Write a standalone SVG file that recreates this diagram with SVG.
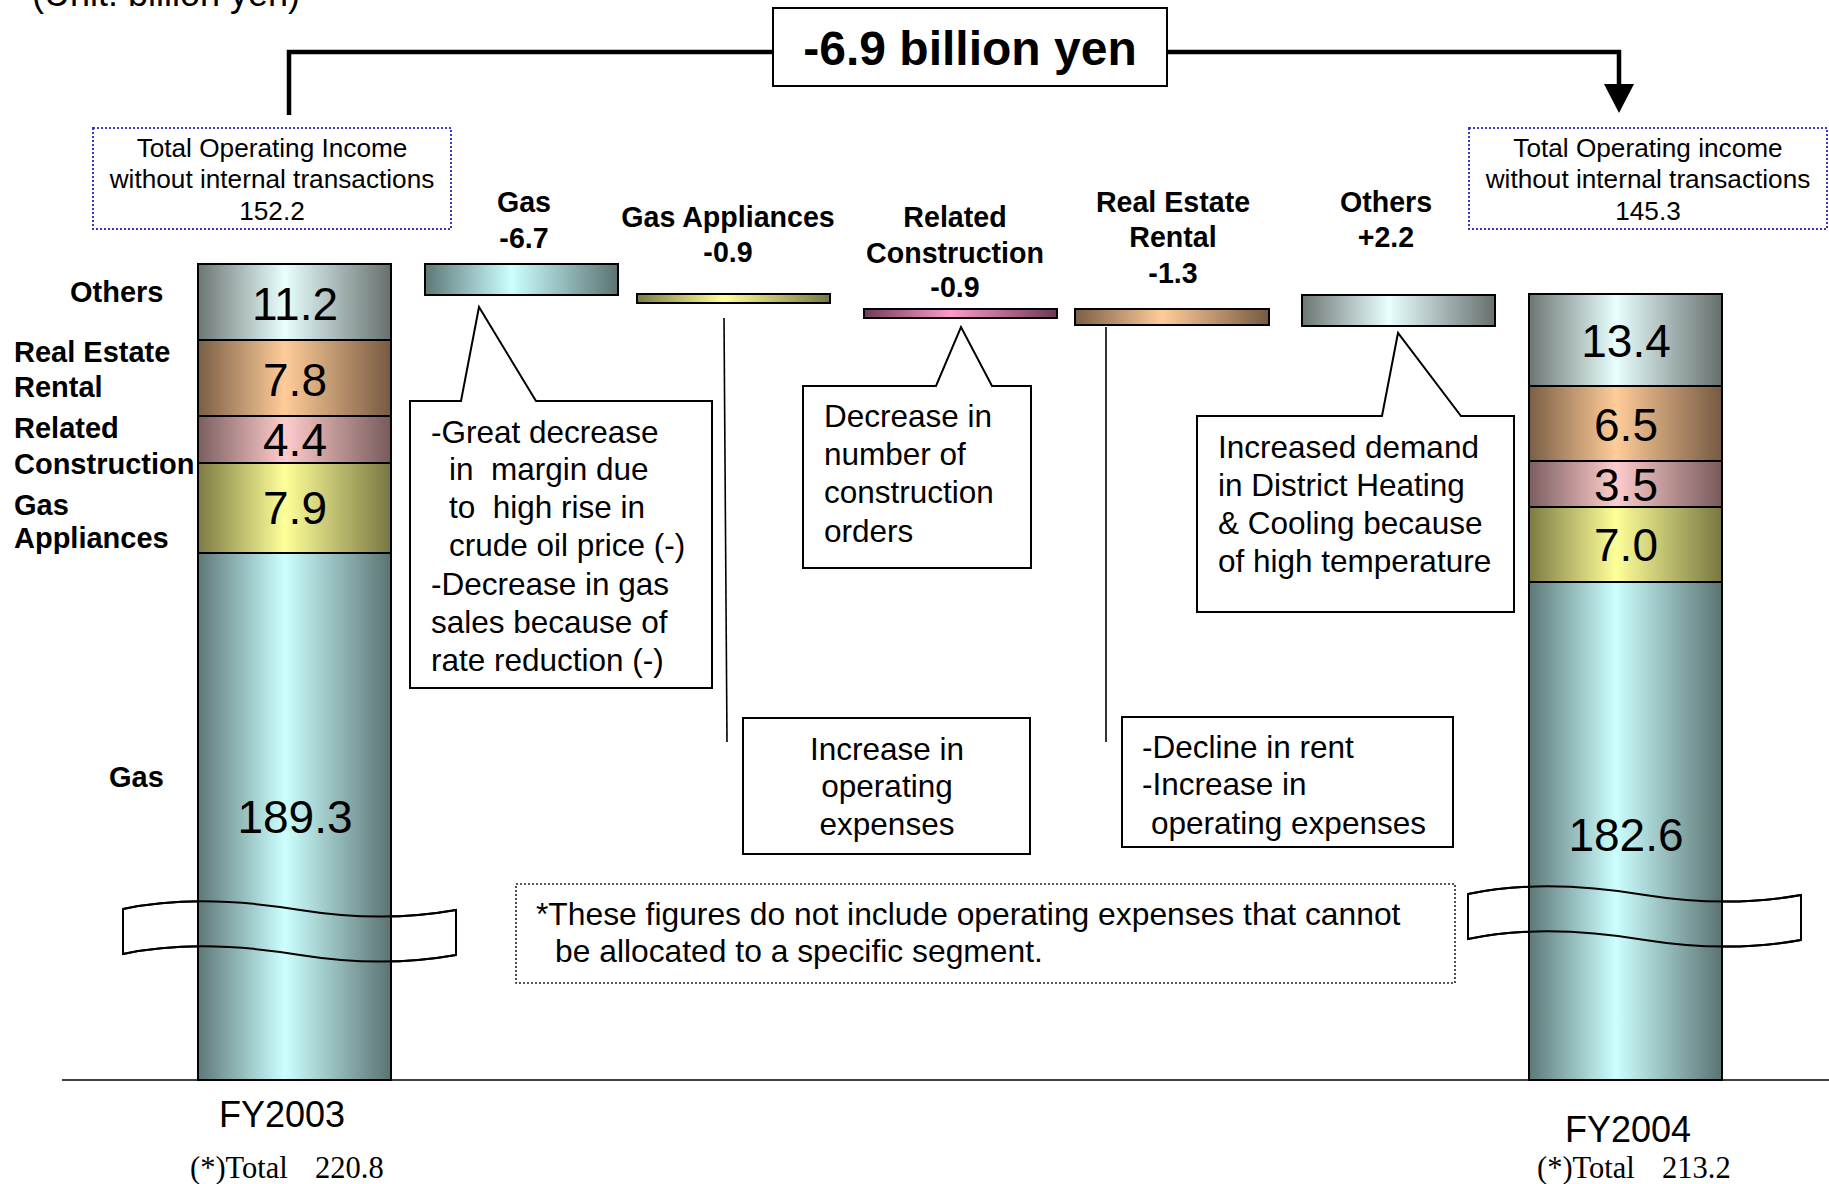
<svg xmlns="http://www.w3.org/2000/svg" width="1829" height="1184" viewBox="0 0 1829 1184">
  <style>
    .sans { font-family: "Liberation Sans", Arial, sans-serif; fill: #000; }
    .serif { font-family: "Liberation Serif", "Times New Roman", serif; fill: #000; }
    .bold { font-weight: bold; }
    .num { font-family: "Liberation Sans", Arial, sans-serif; font-size: 46px; text-anchor: middle; }
    .seglabel { font-family: "Liberation Sans", Arial, sans-serif; font-size: 29px; font-weight: bold; }
    .chglabel { font-family: "Liberation Sans", Arial, sans-serif; font-size: 28.6px; font-weight: bold; text-anchor: middle; }
    .note { font-family: "Liberation Sans", Arial, sans-serif; font-size: 31.5px; }
    .foot { font-family: "Liberation Sans", Arial, sans-serif; font-size: 31.8px; }
    .total { font-family: "Liberation Sans", Arial, sans-serif; font-size: 26.2px; text-anchor: middle; }
    .seg { stroke: #000; stroke-width: 2; }
    .box { fill: #fff; stroke: #000; stroke-width: 2; }
    .dotblue { fill: #fff; stroke: #3a3ab8; stroke-width: 2; stroke-dasharray: 2 2; }
    .dotblack { fill: #fff; stroke: #222; stroke-width: 1.6; stroke-dasharray: 2 2; }
    .lead { fill: none; stroke: #000; stroke-width: 1.6; }
    .bracket { fill: none; stroke: #000; stroke-width: 4.5; }
    .wave { fill: none; stroke: #000; stroke-width: 2; }
  </style>
  <defs>
    <linearGradient id="gGas" x1="0" y1="0" x2="1" y2="0">
      <stop offset="0" stop-color="#5d7877"/>
      <stop offset="0.45" stop-color="#ccffff"/>
      <stop offset="1" stop-color="#5a7372"/>
    </linearGradient>
    <linearGradient id="gOthers" x1="0" y1="0" x2="1" y2="0">
      <stop offset="0" stop-color="#6c7674"/>
      <stop offset="0.45" stop-color="#e8fffd"/>
      <stop offset="1" stop-color="#666f6e"/>
    </linearGradient>
    <linearGradient id="gRent" x1="0" y1="0" x2="1" y2="0">
      <stop offset="0" stop-color="#7a5e45"/>
      <stop offset="0.45" stop-color="#ffcc99"/>
      <stop offset="1" stop-color="#765a42"/>
    </linearGradient>
    <linearGradient id="gCons" x1="0" y1="0" x2="1" y2="0">
      <stop offset="0" stop-color="#7b5e5f"/>
      <stop offset="0.45" stop-color="#ffcccc"/>
      <stop offset="1" stop-color="#775a5b"/>
    </linearGradient>
    <linearGradient id="gConsChg" x1="0" y1="0" x2="1" y2="0">
      <stop offset="0" stop-color="#6e3c57"/>
      <stop offset="0.45" stop-color="#ff99cc"/>
      <stop offset="1" stop-color="#6a3a54"/>
    </linearGradient>
    <linearGradient id="gApp" x1="0" y1="0" x2="1" y2="0">
      <stop offset="0" stop-color="#7b7b44"/>
      <stop offset="0.45" stop-color="#ffff99"/>
      <stop offset="1" stop-color="#777742"/>
    </linearGradient>
    <!-- axis-break band and its two wavy edges -->
    <path id="breakBand" d="M123,909 C180,897 240,900 300,910 C350,918 400,920 456,910 L456,955 C400,965 350,963 300,955 C240,945 180,942 123,954 Z"/>
    <path id="breakEdges" d="M123,909 C180,897 240,900 300,910 C350,918 400,920 456,910 M123,954 C180,942 240,945 300,955 C350,963 400,965 456,955"/>
  </defs>

  <rect width="1829" height="1184" fill="#fff"/>

  <!-- unit caption, running off the top edge -->
  <text class="sans" x="32" y="6" font-size="36">(Unit: billion yen)</text>

  <!-- baseline of the chart -->
  <line x1="62" y1="1080" x2="1829" y2="1080" stroke="#000" stroke-width="1.6"/>

  <!-- break band behind the bars -->
  <use href="#breakBand" fill="#fff" stroke="#000" stroke-width="2"/>
  <use href="#breakBand" fill="#fff" stroke="#000" stroke-width="2" transform="translate(1345,-15)"/>

  <!-- FY2003 stacked bar -->
  <g id="bar-fy2003">
    <rect class="seg" x="198" y="264" width="193" height="76" fill="url(#gOthers)"/>
    <rect class="seg" x="198" y="340" width="193" height="76" fill="url(#gRent)"/>
    <rect class="seg" x="198" y="416" width="193" height="47" fill="url(#gCons)"/>
    <rect class="seg" x="198" y="463" width="193" height="90" fill="url(#gApp)"/>
    <rect class="seg" x="198" y="553" width="193" height="527" fill="url(#gGas)"/>
    <text class="num" x="295" y="320">11.2</text>
    <text class="num" x="295" y="396">7.8</text>
    <text class="num" x="295" y="456">4.4</text>
    <text class="num" x="295" y="524">7.9</text>
    <text class="num" x="295" y="833">189.3</text>
  </g>

  <!-- FY2004 stacked bar -->
  <g id="bar-fy2004">
    <rect class="seg" x="1529" y="294" width="193" height="92" fill="url(#gOthers)"/>
    <rect class="seg" x="1529" y="386" width="193" height="75" fill="url(#gRent)"/>
    <rect class="seg" x="1529" y="461" width="193" height="46" fill="url(#gCons)"/>
    <rect class="seg" x="1529" y="507" width="193" height="75" fill="url(#gApp)"/>
    <rect class="seg" x="1529" y="582" width="193" height="498" fill="url(#gGas)"/>
    <text class="num" x="1626" y="357">13.4</text>
    <text class="num" x="1626" y="441">6.5</text>
    <text class="num" x="1626" y="501">3.5</text>
    <text class="num" x="1626" y="561">7.0</text>
    <text class="num" x="1626" y="851">182.6</text>
  </g>

  <!-- wavy break edges drawn over the bars -->
  <use href="#breakEdges" class="wave"/>
  <use href="#breakEdges" class="wave" transform="translate(1345,-15)"/>

  <!-- segment names beside the FY2003 bar -->
  <g id="segment-names">
    <text class="seglabel" x="70" y="302">Others</text>
    <text class="seglabel" x="14" y="362">Real Estate</text>
    <text class="seglabel" x="14" y="397">Rental</text>
    <text class="seglabel" x="14" y="438">Related</text>
    <text class="seglabel" x="14" y="474">Construction</text>
    <text class="seglabel" x="14" y="515">Gas</text>
    <text class="seglabel" x="14" y="548">Appliances</text>
    <text class="seglabel" x="109" y="787">Gas</text>
  </g>

  <!-- totals -->
  <g id="total-fy2003">
    <rect class="dotblue" x="93" y="128" width="358" height="101"/>
    <text class="total" x="272" y="157">Total Operating Income</text>
    <text class="total" x="272" y="188">without internal transactions</text>
    <text class="total" x="272" y="220">152.2</text>
  </g>
  <g id="total-fy2004">
    <rect class="dotblue" x="1469" y="128" width="358" height="101"/>
    <text class="total" x="1648" y="157">Total Operating income</text>
    <text class="total" x="1648" y="188">without internal transactions</text>
    <text class="total" x="1648" y="220">145.3</text>
  </g>

  <!-- overall change -->
  <g id="change-total">
    <rect x="773" y="8" width="394" height="78" fill="#fff" stroke="#000" stroke-width="2"/>
    <text class="sans bold" x="970" y="65" font-size="48" text-anchor="middle">-6.9 billion yen</text>
  </g>

  <!-- segment changes -->
  <g id="chg-gas">
    <text class="chglabel" x="524" y="212">Gas</text>
    <text class="chglabel" x="524" y="248">-6.7</text>
    <rect class="seg" x="425" y="264" width="193" height="31" fill="url(#gGas)"/>
  </g>
  <g id="chg-appliances">
    <text class="chglabel" x="728" y="227">Gas Appliances</text>
    <text class="chglabel" x="728" y="262">-0.9</text>
    <rect class="seg" x="637" y="294" width="193" height="9" fill="url(#gApp)"/>
  </g>
  <g id="chg-construction">
    <text class="chglabel" x="955" y="227">Related</text>
    <text class="chglabel" x="955" y="263">Construction</text>
    <text class="chglabel" x="955" y="297">-0.9</text>
    <rect class="seg" x="864" y="309" width="193" height="9" fill="url(#gConsChg)"/>
  </g>
  <g id="chg-rental">
    <text class="chglabel" x="1173" y="212">Real Estate</text>
    <text class="chglabel" x="1173" y="247">Rental</text>
    <text class="chglabel" x="1173" y="283">-1.3</text>
    <rect class="seg" x="1075" y="309" width="194" height="16" fill="url(#gRent)"/>
  </g>
  <g id="chg-others">
    <text class="chglabel" x="1386" y="212">Others</text>
    <text class="chglabel" x="1386" y="247">+2.2</text>
    <rect class="seg" x="1302" y="295" width="193" height="31" fill="url(#gOthers)"/>
  </g>

  <!-- connectors: bracket, arrow and leader lines -->
  <g id="connectors">
    <polyline class="bracket" points="289,115 289,52 773,52"/>
    <polyline class="bracket" points="1167,52 1619,52 1619,86"/>
    <polygon points="1604,84 1634,84 1619,113" fill="#000"/>
    <line class="lead" x1="724" y1="318" x2="727" y2="742"/>
    <line class="lead" x1="1106" y1="327" x2="1106" y2="742"/>
  </g>

  <!-- explanations -->
  <g id="note-gas">
    <path class="box" d="M410,401 L461,401 L479,307 L536,401 L712,401 L712,688 L410,688 Z"/>
    <text class="note" x="431" y="443">-Great decrease</text>
    <text class="note" x="449" y="480" xml:space="preserve">in  margin due</text>
    <text class="note" x="449" y="518" xml:space="preserve">to  high rise in</text>
    <text class="note" x="449" y="556">crude oil price (-)</text>
    <text class="note" x="431" y="595">-Decrease in gas</text>
    <text class="note" x="431" y="633">sales because of</text>
    <text class="note" x="431" y="671">rate reduction (-)</text>
  </g>
  <g id="note-appliances">
    <rect class="box" x="743" y="718" width="287" height="136"/>
    <text class="note" x="887" y="760" text-anchor="middle">Increase in</text>
    <text class="note" x="887" y="797" text-anchor="middle">operating</text>
    <text class="note" x="887" y="835" text-anchor="middle">expenses</text>
  </g>
  <g id="note-construction">
    <path class="box" d="M803,386 L936,386 L961,327 L992,386 L1031,386 L1031,568 L803,568 Z"/>
    <text class="note" x="824" y="427">Decrease in</text>
    <text class="note" x="824" y="465">number of</text>
    <text class="note" x="824" y="503">construction</text>
    <text class="note" x="824" y="542">orders</text>
  </g>
  <g id="note-rental">
    <rect class="box" x="1122" y="717" width="331" height="130"/>
    <text class="note" x="1142" y="758">-Decline in rent</text>
    <text class="note" x="1142" y="795">-Increase in</text>
    <text class="note" x="1151" y="834">operating expenses</text>
  </g>
  <g id="note-others">
    <path class="box" d="M1197,416 L1382,416 L1398,333 L1461,416 L1514,416 L1514,612 L1197,612 Z"/>
    <text class="note" x="1218" y="458">Increased demand</text>
    <text class="note" x="1218" y="496">in District Heating</text>
    <text class="note" x="1218" y="534">&amp; Cooling because</text>
    <text class="note" x="1218" y="572">of high temperature</text>
  </g>
  <g id="note-footnote">
    <rect class="dotblack" x="516" y="884" width="939" height="99"/>
    <text class="foot" x="536" y="925">*These figures do not include operating expenses that cannot</text>
    <text class="foot" x="555" y="962">be allocated to a specific segment.</text>
  </g>

  <!-- year labels -->
  <g id="label-fy2003">
    <text class="sans" x="282" y="1127" font-size="36" text-anchor="middle">FY2003</text>
    <text class="serif" x="190" y="1178" font-size="30.5">(*)Total</text>
    <text class="serif" x="315" y="1178" font-size="30.5">220.8</text>
  </g>
  <g id="label-fy2004">
    <text class="sans" x="1628" y="1142" font-size="36" text-anchor="middle">FY2004</text>
    <text class="serif" x="1537" y="1178" font-size="30.5">(*)Total</text>
    <text class="serif" x="1662" y="1178" font-size="30.5">213.2</text>
  </g>
</svg>
